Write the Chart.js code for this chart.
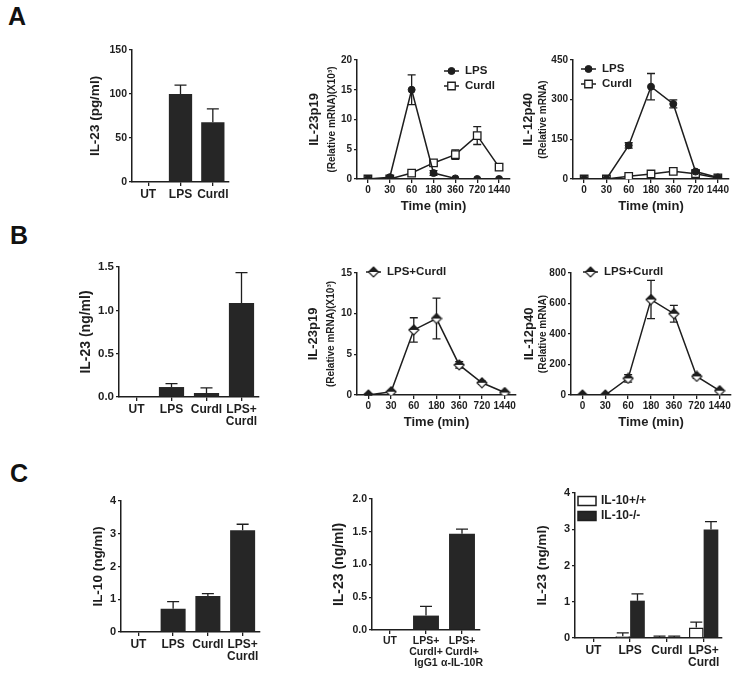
<!DOCTYPE html>
<html>
<head>
<meta charset="utf-8">
<script src="https://cdn.jsdelivr.net/npm/chart.js@4.4.1/dist/chart.umd.min.js"></script>
<style>
  body { margin: 0; background: #fff; }
  #fig { position: relative; width: 740px; height: 675px; overflow: hidden; font-family: 'Liberation Sans', Arial, sans-serif; }
  .letter { position: absolute; font-weight: bold; font-size: 25px; line-height: 25px; color: #111; }
  .panel { position: absolute; }
</style>
</head>
<body>
<div id="fig">
  <div class="letter" style="left:8px;top:4px">A</div>
  <div class="letter" style="left:10px;top:223px">B</div>
  <div class="letter" style="left:10px;top:461px">C</div>
</div>
<script>
// ---- data ----
const timeLabels = ['0', '30', '60', '180', '360', '720', '1440'];

const a1Labels = ['UT', 'LPS', 'Curdl'];
const a1Values = [0, 100, 68];
const a1Errors = [0, 10, 15];
const a1Ticks = [0, 50, 100, 150];

const a2LPS = [0, 0.3, 15, 1.0, 0.1, 0, 0];
const a2LPSErr = [0, 0.2, 2.5, 0.4, 0, 0, 0];
const a2Curdl = [0, 0, 1.0, 2.7, 4.1, 7.3, 2.0];
const a2CurdlErr = [0, 0, 0.2, 0.4, 0.8, 1.5, 0.5];
const a2Ticks = [0, 5, 10, 15, 20];

const a3LPS = [0, 0, 127, 349, 284, 28, 6];
const a3LPSErr = [0, 0, 10, 50, 15, 5, 0];
const a3Curdl = [0, 0, 10, 19, 29, 20, 4];
const a3CurdlErr = [0, 0, 2, 3, 4, 3, 1];
const a3Ticks = [0, 150, 300, 450];

const b1Labels = ['UT', 'LPS', 'Curdl', ['LPS+', 'Curdl']];
const b1Values = [0, 0.115, 0.046, 1.085];
const b1Errors = [0, 0.04, 0.06, 0.35];
const b1Ticks = [0, 0.5, 1.0, 1.5];

const b2Values = [0, 0.4, 8.0, 9.4, 3.7, 1.5, 0.3];
const b2Errors = [0.1, 0.1, 1.5, 2.5, 0.4, 0.2, 0.1];
const b2Ticks = [0, 5, 10, 15];

const b3Values = [0, 0, 109, 626, 533, 122, 28];
const b3Errors = [0, 0, 25, 125, 55, 12, 5];
const b3Ticks = [0, 200, 400, 600, 800];

const c1Labels = ['UT', 'LPS', 'Curdl', ['LPS+', 'Curdl']];
const c1Values = [0.02, 0.71, 1.10, 3.11];
const c1Errors = [0, 0.22, 0.07, 0.18];
const c1Ticks = [0, 1, 2, 3, 4];

const c2Labels = ['UT', ['LPS+', 'Curdl+', 'IgG1'], ['LPS+', 'Curdl+', '\u03b1-IL-10R']];
const c2Values = [0, 0.22, 1.47];
const c2Errors = [0, 0.14, 0.07];
const c2Ticks = [0, 0.5, 1.0, 1.5, 2.0];

const c3Labels = ['UT', 'LPS', 'Curdl', ['LPS+', 'Curdl']];
const c3WT = [0, 0.05, 0.03, 0.29];
const c3WTErr = [0, 0.09, 0.02, 0.15];
const c3KO = [0, 1.03, 0.03, 2.99];
const c3KOErr = [0, 0.19, 0.02, 0.22];
const c3Ticks = [0, 1, 2, 3, 4];

// ---- styling ----
const ink = '#1e1e1e';
const barInk = '#262626';
const family = "'Liberation Sans', Arial, Helvetica, sans-serif";
Chart.defaults.font.family = family;
Chart.defaults.font.weight = 'bold';
Chart.defaults.color = ink;

const fig = document.getElementById('fig');

// diamond marker, top half filled
function halfDiamond(size) {
    const c = document.createElement('canvas');
    c.width = size;
    c.height = size;
    const g = c.getContext('2d');
    const m = size / 2, r = size / 2 - 1;
    g.beginPath();
    g.moveTo(m, m - r);
    g.lineTo(m + r, m);
    g.lineTo(m, m + r);
    g.lineTo(m - r, m);
    g.closePath();
    g.fillStyle = '#fff';
    g.fill();
    g.save();
    g.clip();
    g.fillStyle = ink;
    g.fillRect(0, 0, size, m);
    g.restore();
    g.strokeStyle = ink;
    g.lineWidth = 1.2;
    g.stroke();
    return c;
}
const diamond = halfDiamond(12);

function lpsLine(values, errors) {
    return { label: 'LPS', data: values, errors: errors, borderColor: ink, borderWidth: 1.5,
        pointStyle: 'circle', pointRadius: 3.5, pointBackgroundColor: ink, pointBorderColor: ink, pointBorderWidth: 1 };
}
function curdlLine(values, errors) {
    return { label: 'Curdl', data: values, errors: errors, borderColor: ink, borderWidth: 1.5,
        pointStyle: 'rect', pointRadius: 5.3, pointBackgroundColor: '#fff', pointBorderColor: ink, pointBorderWidth: 1.3 };
}
function comboLine(values, errors) {
    return { label: 'LPS+Curdl', data: values, errors: errors, borderColor: ink, borderWidth: 1.5,
        pointStyle: diamond, pointRadius: 6, pointBackgroundColor: ink, pointBorderColor: ink };
}
function barSet(label, values, errors, fill) {
    return { label: label, data: values, errors: errors, backgroundColor: fill,
        borderColor: ink, borderWidth: fill === '#fff' ? 1.5 : 0, borderSkipped: 'start' };
}

// error bars: bars only upward, line points both ways
const errorBars = {
    id: 'errorBars',
    beforeDatasetsDraw(chart) {
        const ctx = chart.ctx;
        const yScale = chart.scales.y;
        ctx.save();
        ctx.strokeStyle = ink;
        ctx.lineWidth = 1.3;
        chart.data.datasets.forEach((ds, i) => {
            if (!ds.errors) return;
            const meta = chart.getDatasetMeta(i);
            const isBar = meta.type === 'bar';
            const cap = isBar ? 6 : 4;
            meta.data.forEach((el, j) => {
                const e = ds.errors[j];
                if (!e) return;
                const v = ds.data[j];
                const yTop = yScale.getPixelForValue(v + e);
                const yBot = isBar ? yScale.getPixelForValue(v) : yScale.getPixelForValue(Math.max(v - e, 0));
                ctx.beginPath();
                ctx.moveTo(el.x, yBot);
                ctx.lineTo(el.x, yTop);
                ctx.moveTo(el.x - cap, yTop);
                ctx.lineTo(el.x + cap, yTop);
                if (!isBar) {
                    ctx.moveTo(el.x - cap, yBot);
                    ctx.lineTo(el.x + cap, yBot);
                }
                ctx.stroke();
            });
        });
        ctx.restore();
    }
};

// axis titles and legends
const panelText = {
    id: 'panelText',
    afterDraw(chart, args, opts) {
        const ctx = chart.ctx;
        const area = chart.chartArea;
        ctx.save();
        ctx.fillStyle = ink;
        ctx.textAlign = 'center';
        ctx.textBaseline = 'middle';
        const midY = (area.top + area.bottom) / 2;
        (opts.yTitles || []).forEach(t => {
            ctx.save();
            ctx.translate(area.left - t.offset, midY);
            ctx.rotate(-Math.PI / 2);
            ctx.font = `bold ${t.size}px ${family}`;
            ctx.fillText(t.text, 0, 0);
            ctx.restore();
        });
        if (opts.xTitle) {
            ctx.font = `bold 13px ${family}`;
            ctx.fillText(opts.xTitle, (area.left + area.right) / 2, area.bottom + 27);
        }
        const lg = opts.legend;
        if (lg) {
            ctx.textAlign = 'left';
            ctx.font = `bold 11.5px ${family}`;
            lg.items.forEach((idx, k) => {
                const ds = chart.data.datasets[idx];
                const x = lg.x - opts.left;
                const y = lg.y - opts.top + k * 15;
                if (chart.config.type === 'line') {
                    ctx.strokeStyle = ink;
                    ctx.lineWidth = 1.5;
                    ctx.beginPath();
                    ctx.moveTo(x, y);
                    ctx.lineTo(x + 15, y);
                    ctx.stroke();
                    ctx.fillStyle = ds.pointBackgroundColor;
                    ctx.strokeStyle = ds.pointBorderColor;
                    ctx.lineWidth = ds.pointBorderWidth || 1;
                    Chart.helpers.drawPoint(ctx, { pointStyle: ds.pointStyle, radius: ds.pointRadius, rotation: 0, borderWidth: ds.pointBorderWidth || 1 }, x + 7.5, y);
                    ctx.fillStyle = ink;
                    ctx.fillText(ds.label, x + 21, y);
                } else {
                    ctx.fillStyle = ds.backgroundColor;
                    ctx.fillRect(x, y - 4.5, 18, 9);
                    ctx.strokeStyle = ink;
                    ctx.lineWidth = 1.5;
                    ctx.strokeRect(x, y - 4.5, 18, 9);
                    ctx.fillStyle = ink;
                    ctx.font = `bold 12px ${family}`;
                    ctx.fillText(ds.label, x + 23, y);
                }
            });
        }
        ctx.restore();
    }
};

function buildPanel(p) {
    const yW = 70, xH = 48, padTop = 10, padRight = 14;
    const left = p.axisX - yW;
    const top = p.topY - padTop;
    const w = yW + (p.rightX - p.axisX) + padRight;
    const h = padTop + (p.zeroY - p.topY) + xH;

    const holder = document.createElement('div');
    holder.className = 'panel';
    holder.style.cssText = `left:${left}px;top:${top}px;width:${w}px;height:${h}px`;
    const canvas = document.createElement('canvas');
    canvas.width = w;
    canvas.height = h;
    canvas.style.width = w + 'px';
    canvas.style.height = h + 'px';
    holder.appendChild(canvas);
    fig.appendChild(holder);

    const isBar = p.type === 'bar';
    const axisGrid = { display: true, drawOnChartArea: false, offset: false, tickLength: 4, color: ink, lineWidth: 1.3 };
    const axisBorder = { display: true, color: ink, width: 1.5 };

    new Chart(canvas, {
        type: p.type,
        data: { labels: p.labels, datasets: p.datasets },
        options: {
            responsive: false,
            animation: false,
            layout: { padding: { top: padTop, right: padRight, left: 0, bottom: 0 } },
            datasets: {
                bar: { categoryPercentage: p.catPct || 1, barPercentage: p.barPct || 0.72 },
                line: { tension: 0 }
            },
            plugins: {
                legend: { display: false },
                tooltip: { enabled: false },
                panelText: { yTitles: p.yTitles, xTitle: p.xTitle, legend: p.legend, left: left, top: top }
            },
            scales: {
                x: {
                    type: 'category',
                    offset: true,
                    grid: axisGrid,
                    border: axisBorder,
                    ticks: {
                        color: ink, padding: 2, maxRotation: 0, autoSkip: false,
                        font: { size: p.xFont || (isBar ? 12 : 10), weight: 'bold', lineHeight: 1.05 }
                    },
                    afterFit: s => { s.height = xH; }
                },
                y: {
                    min: p.ticks[0],
                    max: p.ticks[p.ticks.length - 1],
                    grid: Object.assign({}, axisGrid, { tickLength: 3 }),
                    border: axisBorder,
                    afterBuildTicks: s => { s.ticks = p.ticks.map(v => ({ value: v })); },
                    ticks: {
                        color: ink, padding: 2,
                        font: { size: p.yFont || 10, weight: 'bold' },
                        callback: v => v.toFixed(p.decimals || 0)
                    },
                    afterFit: s => { s.width = yW; }
                }
            }
        },
        plugins: [errorBars, panelText]
    });
}

const panels = [
    { type: 'bar', axisX: 132, topY: 50, zeroY: 182, rightX: 229, labels: a1Labels, ticks: a1Ticks, yFont: 10.5,
      datasets: [barSet('IL-23', a1Values, a1Errors, barInk)],
      yTitles: [{ text: 'IL-23 (pg/ml)', size: 13.5, offset: 37 }] },
    { type: 'line', axisX: 357, topY: 60, zeroY: 179, rightX: 510, labels: timeLabels, ticks: a2Ticks,
      datasets: [lpsLine(a2LPS, a2LPSErr), curdlLine(a2Curdl, a2CurdlErr)],
      yTitles: [{ text: 'IL-23p19', size: 13, offset: 43 }, { text: '(Relative mRNA)(X10\u00b3)', size: 10, offset: 25 }],
      xTitle: 'Time (min)', legend: { x: 444, y: 71, items: [0, 1] } },
    { type: 'line', axisX: 573, topY: 60, zeroY: 179, rightX: 729, labels: timeLabels, ticks: a3Ticks,
      datasets: [lpsLine(a3LPS, a3LPSErr), curdlLine(a3Curdl, a3CurdlErr)],
      yTitles: [{ text: 'IL-12p40', size: 13, offset: 45 }, { text: '(Relative mRNA)', size: 10, offset: 30 }],
      xTitle: 'Time (min)', legend: { x: 581, y: 69, items: [0, 1] } },
    { type: 'bar', axisX: 119, topY: 267, zeroY: 397, rightX: 259, labels: b1Labels, ticks: b1Ticks, decimals: 1, yFont: 11.5,
      datasets: [barSet('IL-23', b1Values, b1Errors, barInk)],
      yTitles: [{ text: 'IL-23 (ng/ml)', size: 14, offset: 33 }] },
    { type: 'line', axisX: 357, topY: 273, zeroY: 395, rightX: 516, labels: timeLabels, ticks: b2Ticks,
      datasets: [comboLine(b2Values, b2Errors)],
      yTitles: [{ text: 'IL-23p19', size: 13, offset: 44 }, { text: '(Relative mRNA)(X10\u00b3)', size: 10, offset: 26 }],
      xTitle: 'Time (min)', legend: { x: 366, y: 272, items: [0] } },
    { type: 'line', axisX: 571, topY: 273, zeroY: 395, rightX: 731, labels: timeLabels, ticks: b3Ticks,
      datasets: [comboLine(b3Values, b3Errors)],
      yTitles: [{ text: 'IL-12p40', size: 13, offset: 42 }, { text: '(Relative mRNA)', size: 10, offset: 28 }],
      xTitle: 'Time (min)', legend: { x: 583, y: 272, items: [0] } },
    { type: 'bar', axisX: 121, topY: 501, zeroY: 632, rightX: 260, labels: c1Labels, ticks: c1Ticks, yFont: 11,
      datasets: [barSet('IL-10', c1Values, c1Errors, barInk)],
      yTitles: [{ text: 'IL-10 (ng/ml)', size: 13.5, offset: 23 }] },
    { type: 'bar', axisX: 372, topY: 499, zeroY: 630, rightX: 480, labels: c2Labels, ticks: c2Ticks, decimals: 1,
      yFont: 10.5, xFont: 10.5,
      datasets: [barSet('IL-23', c2Values, c2Errors, barInk)],
      yTitles: [{ text: 'IL-23 (ng/ml)', size: 14, offset: 33 }] },
    { type: 'bar', axisX: 575, topY: 493, zeroY: 638, rightX: 722, labels: c3Labels, ticks: c3Ticks, yFont: 11,
      catPct: 0.8, barPct: 1,
      datasets: [barSet('IL-10+/+', c3WT, c3WTErr, '#fff'), barSet('IL-10-/-', c3KO, c3KOErr, barInk)],
      yTitles: [{ text: 'IL-23 (ng/ml)', size: 13.5, offset: 33 }],
      legend: { x: 578, y: 501, items: [0, 1] } }
];

panels.forEach(buildPanel);
</script>
</body>
</html>
